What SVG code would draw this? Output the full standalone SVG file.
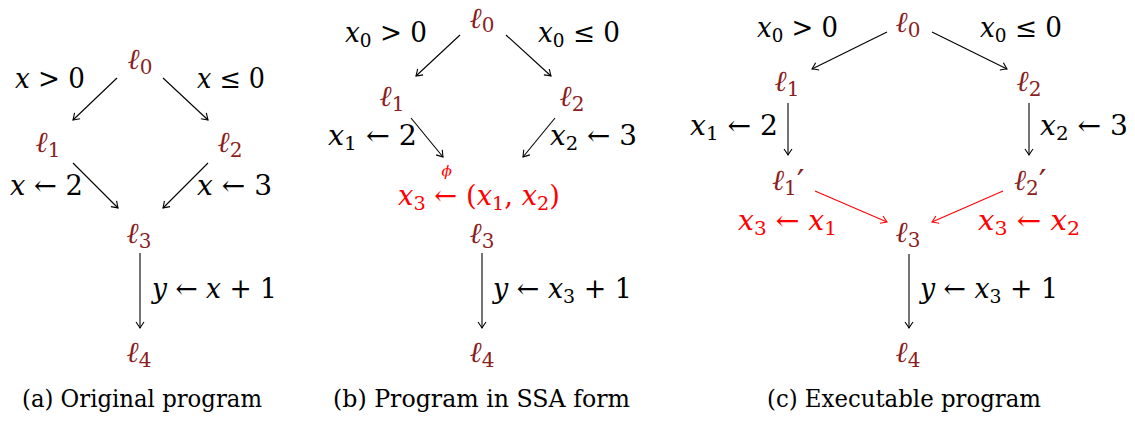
<svg xmlns="http://www.w3.org/2000/svg" width="1135" height="423" viewBox="0 0 1135 423">
<style>
text{font-family:'DejaVu Serif','Liberation Serif',serif;font-size:27px;fill:#000}
.i{font-style:italic}
.s{font-size:19px}
.L{fill:#8b1e1e}
.L .i{font-size:29px}
.L .s{font-size:20px}
.p{font-size:34px}
.r{fill:#ff0000}
.c{font-size:25px}
.m{text-anchor:middle}
line{stroke:#000;stroke-width:1.1;fill:none}
line.red{stroke:#ff0000}
</style>
<defs>
<marker id="ah" markerUnits="userSpaceOnUse" viewBox="-8 -5 10 10" refX="0" refY="0" markerWidth="10" markerHeight="10" orient="auto">
<path d="M-6,-4 Q-2,-1.2 0,0 Q-2,1.2 -6,4" fill="none" stroke="#000" stroke-width="1.1"/>
</marker>
<marker id="ahr" markerUnits="userSpaceOnUse" viewBox="-8 -5 10 10" refX="0" refY="0" markerWidth="10" markerHeight="10" orient="auto">
<path d="M-6,-4 Q-2,-1.2 0,0 Q-2,1.2 -6,4" fill="none" stroke="#ff0000" stroke-width="1.1"/>
</marker>
</defs>

<g id="connectors">
<line x1="117" y1="78" x2="73" y2="120" marker-end="url(#ah)"/>
<line x1="163" y1="78" x2="208" y2="120" marker-end="url(#ah)"/>
<line x1="73" y1="163" x2="118" y2="208" marker-end="url(#ah)"/>
<line x1="208" y1="163" x2="163" y2="208" marker-end="url(#ah)"/>
<line x1="140" y1="253" x2="140" y2="328" marker-end="url(#ah)"/>

<line x1="460" y1="35" x2="416" y2="76" marker-end="url(#ah)"/>
<line x1="506" y1="35" x2="551" y2="76" marker-end="url(#ah)"/>
<line x1="411" y1="118" x2="443" y2="157" marker-end="url(#ah)"/>
<line x1="555" y1="118" x2="523" y2="157" marker-end="url(#ah)"/>
<line x1="482" y1="253" x2="482" y2="328" marker-end="url(#ah)"/>

<line x1="887" y1="32" x2="812" y2="69" marker-end="url(#ah)"/>
<line x1="932" y1="32" x2="1007" y2="69" marker-end="url(#ah)"/>
<line x1="788" y1="103" x2="788" y2="155" marker-end="url(#ah)"/>
<line x1="1029" y1="103" x2="1029" y2="155" marker-end="url(#ah)"/>
<line class="red" x1="815" y1="191" x2="887" y2="222" marker-end="url(#ahr)"/>
<line class="red" x1="1003" y1="191" x2="932" y2="222" marker-end="url(#ahr)"/>
<line x1="909" y1="254" x2="909" y2="328" marker-end="url(#ah)"/>
</g>

<!-- Panel (a) -->
<g id="a-l0"><text class="L m" x="140" y="69"><tspan class="i">ℓ</tspan><tspan class="s" dy="5">0</tspan></text></g>
<g id="a-l1"><text class="L m" x="48" y="152"><tspan class="i">ℓ</tspan><tspan class="s" dy="5">1</tspan></text></g>
<g id="a-l2"><text class="L m" x="230" y="152"><tspan class="i">ℓ</tspan><tspan class="s" dy="5">2</tspan></text></g>
<g id="a-l3"><text class="L m" x="139" y="243"><tspan class="i">ℓ</tspan><tspan class="s" dy="5">3</tspan></text></g>
<g id="a-l4"><text class="L m" x="139" y="362"><tspan class="i">ℓ</tspan><tspan class="s" dy="5">4</tspan></text></g>
<g id="a-labels">
<text x="15" y="88" textLength="70" lengthAdjust="spacingAndGlyphs"><tspan class="i">x</tspan> &gt; 0</text>
<text x="197" y="88" textLength="68" lengthAdjust="spacingAndGlyphs"><tspan class="i">x</tspan> ≤ 0</text>
<text x="10" y="195" textLength="73" lengthAdjust="spacingAndGlyphs"><tspan class="i">x</tspan> ← 2</text>
<text x="197" y="195" textLength="75" lengthAdjust="spacingAndGlyphs"><tspan class="i">x</tspan> ← 3</text>
<text x="152" y="298" textLength="125" lengthAdjust="spacingAndGlyphs"><tspan class="i">y</tspan> ← <tspan class="i">x</tspan> + 1</text>
<text class="c" x="22" y="407" textLength="240" lengthAdjust="spacingAndGlyphs">(a) Original program</text>
</g>

<!-- Panel (b) -->
<g id="b-l0"><text class="L m" x="482" y="28"><tspan class="i">ℓ</tspan><tspan class="s" dy="4">0</tspan></text></g>
<g id="b-l1"><text class="L m" x="392" y="106"><tspan class="i">ℓ</tspan><tspan class="s" dy="5">1</tspan></text></g>
<g id="b-l2"><text class="L m" x="572" y="106"><tspan class="i">ℓ</tspan><tspan class="s" dy="5">2</tspan></text></g>
<g id="b-l3"><text class="L m" x="482" y="243"><tspan class="i">ℓ</tspan><tspan class="s" dy="5">3</tspan></text></g>
<g id="b-l4"><text class="L m" x="482" y="362"><tspan class="i">ℓ</tspan><tspan class="s" dy="5">4</tspan></text></g>
<g id="b-labels">
<text x="345" y="42" textLength="82" lengthAdjust="spacingAndGlyphs"><tspan class="i">x</tspan><tspan class="s" dy="5">0</tspan><tspan dy="-5"> &gt; 0</tspan></text>
<text x="538" y="42" textLength="82" lengthAdjust="spacingAndGlyphs"><tspan class="i">x</tspan><tspan class="s" dy="5">0</tspan><tspan dy="-5"> ≤ 0</tspan></text>
<text x="328" y="145" textLength="89" lengthAdjust="spacingAndGlyphs"><tspan class="i">x</tspan><tspan class="s" dy="5">1</tspan><tspan dy="-5"> ← 2</tspan></text>
<text x="550" y="145" textLength="87" lengthAdjust="spacingAndGlyphs"><tspan class="i">x</tspan><tspan class="s" dy="5">2</tspan><tspan dy="-5"> ← 3</tspan></text>
<text class="r" x="398" y="205" textLength="162" lengthAdjust="spacingAndGlyphs"><tspan class="i">x</tspan><tspan class="s" dy="5">3</tspan><tspan dy="-5"> ← </tspan><tspan class="i" style="font-size:15px" dx="-24" dy="-29">ϕ</tspan><tspan dx="14" dy="29">(</tspan><tspan class="i">x</tspan><tspan class="s" dy="5">1</tspan><tspan dy="-5">, </tspan><tspan class="i">x</tspan><tspan class="s" dy="5">2</tspan><tspan dy="-5">)</tspan></text>
<text x="493" y="298" textLength="139" lengthAdjust="spacingAndGlyphs"><tspan class="i">y</tspan> ← <tspan class="i">x</tspan><tspan class="s" dy="5">3</tspan><tspan dy="-5"> + 1</tspan></text>
<text class="c" x="333" y="407" textLength="297" lengthAdjust="spacingAndGlyphs">(b) Program in SSA form</text>
</g>

<!-- Panel (c) -->
<g id="c-l0"><text class="L m" x="908" y="32"><tspan class="i">ℓ</tspan><tspan class="s" dy="5">0</tspan></text></g>
<g id="c-l1"><text class="L m" x="787" y="91"><tspan class="i">ℓ</tspan><tspan class="s" dy="5">1</tspan></text></g>
<g id="c-l2"><text class="L m" x="1029" y="91"><tspan class="i">ℓ</tspan><tspan class="s" dy="5">2</tspan></text></g>
<g id="c-l1p"><text class="L" x="772" y="190"><tspan class="i">ℓ</tspan><tspan class="s" dy="5">1</tspan><tspan class="p" dy="-1">′</tspan></text></g>
<g id="c-l2p"><text class="L" x="1014" y="190"><tspan class="i">ℓ</tspan><tspan class="s" dy="5">2</tspan><tspan class="p" dy="-1">′</tspan></text></g>
<g id="c-l3"><text class="L m" x="908" y="242"><tspan class="i">ℓ</tspan><tspan class="s" dy="5">3</tspan></text></g>
<g id="c-l4"><text class="L m" x="908" y="362"><tspan class="i">ℓ</tspan><tspan class="s" dy="5">4</tspan></text></g>
<g id="c-labels">
<text x="757" y="37" textLength="81" lengthAdjust="spacingAndGlyphs"><tspan class="i">x</tspan><tspan class="s" dy="5">0</tspan><tspan dy="-5"> &gt; 0</tspan></text>
<text x="980" y="37" textLength="82" lengthAdjust="spacingAndGlyphs"><tspan class="i">x</tspan><tspan class="s" dy="5">0</tspan><tspan dy="-5"> ≤ 0</tspan></text>
<text x="690" y="135" textLength="88" lengthAdjust="spacingAndGlyphs"><tspan class="i">x</tspan><tspan class="s" dy="5">1</tspan><tspan dy="-5"> ← 2</tspan></text>
<text x="1040" y="135" textLength="88" lengthAdjust="spacingAndGlyphs"><tspan class="i">x</tspan><tspan class="s" dy="5">2</tspan><tspan dy="-5"> ← 3</tspan></text>
<text class="r" x="738" y="230" textLength="99" lengthAdjust="spacingAndGlyphs"><tspan class="i">x</tspan><tspan class="s" dy="5">3</tspan><tspan dy="-5"> ← </tspan><tspan class="i">x</tspan><tspan class="s" dy="5">1</tspan></text>
<text class="r" x="978" y="230" textLength="102" lengthAdjust="spacingAndGlyphs"><tspan class="i">x</tspan><tspan class="s" dy="5">3</tspan><tspan dy="-5"> ← </tspan><tspan class="i">x</tspan><tspan class="s" dy="5">2</tspan></text>
<text x="920" y="298" textLength="138" lengthAdjust="spacingAndGlyphs"><tspan class="i">y</tspan> ← <tspan class="i">x</tspan><tspan class="s" dy="5">3</tspan><tspan dy="-5"> + 1</tspan></text>
<text class="c" x="767" y="407" textLength="274" lengthAdjust="spacingAndGlyphs">(c) Executable program</text>
</g>
</svg>
